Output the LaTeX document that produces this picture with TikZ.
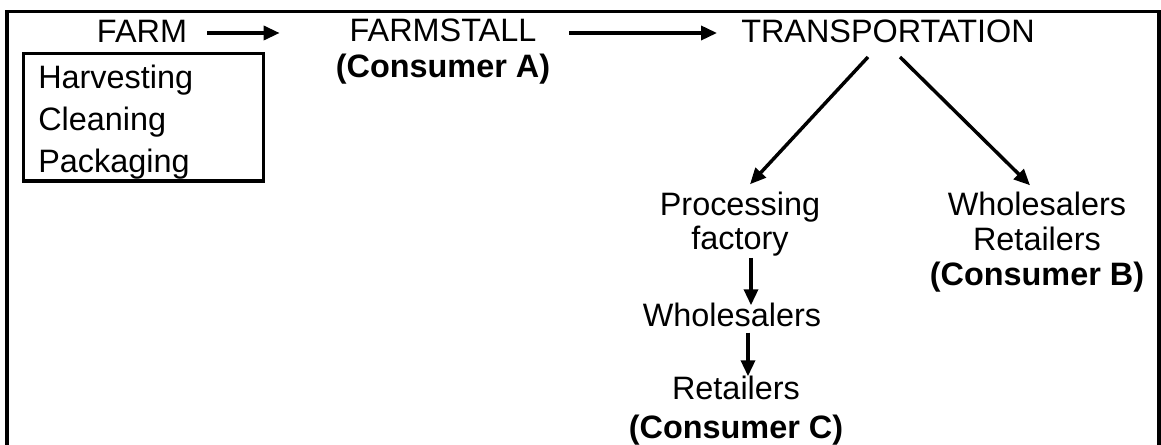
\documentclass[tikz,border=0pt]{standalone}
\usepackage{fontspec}
\setmainfont{Liberation Sans}
\usetikzlibrary{arrows.meta,calc}

\begin{document}
\begin{tikzpicture}[x=0.75pt,y=-0.75pt,
  lbl/.style={inner sep=0pt,anchor=base,align=center,font=\fontsize{24.3}{#1}\selectfont},
  lbl/.default=27pt,
  stepbox/.style={draw,line width=2.4pt,anchor=north west,align=left,inner xsep=10.9pt,inner ysep=0pt,
    text width=158pt,text height=25pt,minimum width=180pt,minimum height=95.6pt,font=\fontsize{24.3}{31.5}\selectfont},
  arr/.style={line width=2.6pt,-{Triangle[length=12pt,width=10.5pt]}}]
\useasboundingbox (0,0) rectangle (1161,445);
\draw[line width=2.4pt] (7,445) -- (7,11.5) -- (1159,11.5) -- (1159,445);
\node[lbl] (farm) at (142,43) {FARM};
\node[stepbox] (steps) at (22,52) {Harvesting\\Cleaning\\Packaging};
\node[lbl=27pt] (stall) at (443,78) {FARMSTALL\\\textbf{(Consumer A)}};
\node[lbl] (transport) at (888,43) {TRANSPORTATION};
\node[lbl=25.5pt] (proc) at (740,250) {Processing\\factory};
\node[lbl=26.25pt] (whret) at (1037,286) {Wholesalers\\Retailers\\\textbf{(Consumer B)}};
\node[lbl] (whole) at (732,327) {Wholesalers};
\node[lbl=28.5pt] (retC) at (736,438) {Retailers\\\textbf{(Consumer C)}};
\draw[arr] ($(farm.base east)+(20,-10)$) -- ($(stall.west |- farm.base)+(-56,-10)$);
\draw[arr] ($(stall.east |- farm.base)+(19,-10)$) -- ($(transport.base west)+(-24,-10)$);
\draw[arr] ($(transport.base)+(-20,14)$) -- ($(proc.north)+(10,-8)$);
\draw[arr] ($(transport.base)+(12,14)$) -- ($(whret.north)+(-7,-7)$);
\draw[arr] ($(proc.south)+(11,1)$) -- ($(whole.north)+(19,2)$);
\draw[arr] ($(whole.south)+(16,5)$) -- ($(retC.north)+(12,0)$);
\end{tikzpicture}
\end{document}
